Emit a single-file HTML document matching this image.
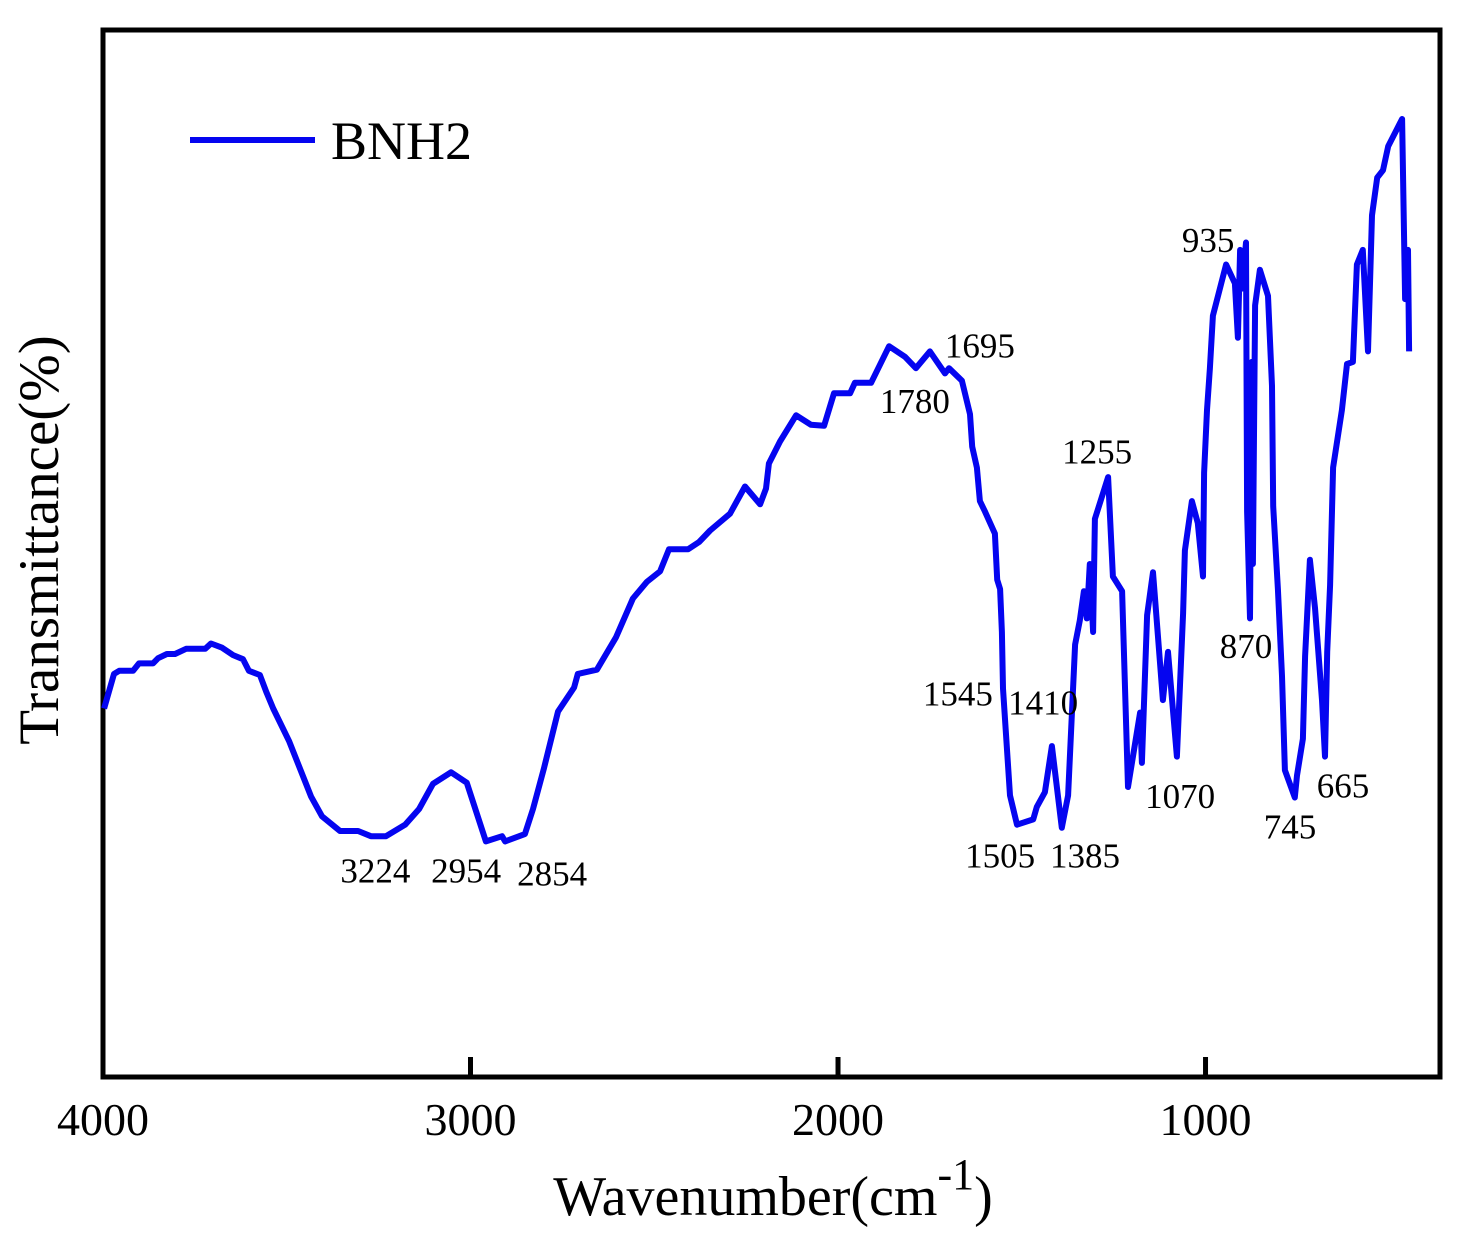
<!DOCTYPE html>
<html><head><meta charset="utf-8"><style>
html,body{margin:0;padding:0;background:#fff;}
svg{display:block;font-family:"Liberation Serif",serif;}
</style></head><body>
<svg id="chart" width="1463" height="1258" viewBox="0 0 1463 1258" xmlns="http://www.w3.org/2000/svg">
<rect x="103" y="30" width="1337" height="1047" fill="none" stroke="#000" stroke-width="5"/>
<g id="ticks"></g>
<path id="line" fill="none" stroke="#0505f0" stroke-width="6" stroke-linejoin="round"/>
<g id="annots" font-size="35"></g>
<text x="773" y="1215" font-size="56" text-anchor="middle">Wavenumber(cm<tspan dy="-26" font-size="44">-1</tspan><tspan dy="26">)</tspan></text>
<text transform="translate(58,540) rotate(-90)" font-size="57" text-anchor="middle">Transmittance(%)</text>
<g>
<line x1="190" y1="140" x2="315" y2="140" stroke="#0505f0" stroke-width="6"/>
<text x="331" y="159" font-size="54">BNH2</text>
</g>
</svg>
<script>
const wavenumbers=[3997,3970,3956,3918,3902,3864,3850,3826,3804,3774,3722,3706,3676,3646,3619,3603,3573,3556,3537,3494,3434,3404,3355,3306,3271,3230,3178,3140,3102,3053,3010,2958,2914,2906,2852,2830,2800,2762,2718,2708,2656,2604,2558,2520,2484,2460,2408,2378,2348,2294,2253,2212,2196,2188,2158,2114,2074,2038,2011,1967,1954,1910,1861,1818,1788,1750,1709,1698,1663,1641,1635,1622,1614,1600,1573,1567,1559,1554,1551,1532,1513,1469,1459,1437,1418,1391,1374,1355,1342,1331,1323,1315,1306,1301,1265,1252,1227,1211,1178,1173,1159,1143,1116,1102,1078,1061,1056,1037,1021,1007,1004,996,988,980,944,920,912,906,901,890,887,879,874,871,865,852,830,819,816,803,792,784,757,751,735,729,716,702,683,675,669,661,653,629,615,599,588,572,558,547,533,517,503,465,457,449,446];
const transmittance=[35.2,38.5,38.8,38.8,39.5,39.5,40.0,40.4,40.4,40.9,40.9,41.4,41.0,40.3,39.9,38.8,38.4,36.8,35.2,32.1,26.8,24.9,23.5,23.5,23.0,23.0,24.1,25.6,28.0,29.1,28.1,22.5,23.0,22.5,23.2,25.6,29.5,34.9,37.2,38.5,38.9,42.0,45.7,47.3,48.3,50.4,50.4,51.1,52.2,53.8,56.4,54.7,56.2,58.6,60.7,63.2,62.3,62.2,65.3,65.3,66.3,66.3,69.8,68.8,67.7,69.3,67.2,67.7,66.5,63.3,60.2,58.2,55.0,54.0,51.9,47.5,46.6,42.5,37.1,26.9,24.1,24.6,25.8,27.2,31.6,23.8,26.9,41.3,43.6,46.4,43.8,49.0,42.5,53.3,57.3,47.8,46.4,27.7,34.8,30.0,44.1,48.2,36.0,40.6,30.6,44.3,50.3,55.0,52.9,47.8,57.7,63.7,67.7,72.7,77.6,75.8,70.6,79.0,75.3,79.7,54.0,43.8,68.3,49.0,73.7,77.1,74.6,66.0,54.5,46.6,38.3,29.3,26.7,28.8,32.3,40.2,49.4,44.8,36.0,30.6,40.6,47.0,58.2,63.7,68.1,68.3,77.6,79.0,69.3,82.3,85.9,86.6,88.9,91.5,74.3,79.0,69.3];
const tickValues=[4000,3000,2000,1000];
const tickLabels=["4000","3000","2000","1000"];
const annotLabels=["3224","2954","2854","1780","1695","1545","1410","1505","1385","1255","1070","935","870","745","665"];
const annotW=[3259,3012,2778,1791,1614,1674,1442,1559,1328,1295,1069,993,890,770,626];
const annotT=[18.6,18.6,18.3,63.4,68.7,35.5,34.6,20.0,20.0,58.6,25.7,78.8,40.0,22.8,26.7];

const X0=103,X1=1440,Y0=1077,Y1=30,W0=4000,W1=362;
function xs(w){return X0+(W0-w)/(W0-W1)*(X1-X0);}
function ys(t){return Y0-(t/100)*(Y0-Y1);}
const NS="http://www.w3.org/2000/svg";
let d="";
for(let i=0;i<wavenumbers.length;i++){d+=(i?"L":"M")+xs(wavenumbers[i]).toFixed(1)+" "+ys(transmittance[i]).toFixed(1);}
document.getElementById('line').setAttribute('d',d);
const tg=document.getElementById('ticks');
tickValues.forEach((v,i)=>{
  const x=xs(v);
  const l=document.createElementNS(NS,'line');
  l.setAttribute('x1',x);l.setAttribute('x2',x);l.setAttribute('y1',Y0);l.setAttribute('y2',Y0-20);
  l.setAttribute('stroke','#000');l.setAttribute('stroke-width','5');
  
  
  tg.appendChild(l);
  const t=document.createElementNS(NS,'text');
  t.setAttribute('x',x);t.setAttribute('y',1135);t.setAttribute('font-size','46');t.setAttribute('text-anchor','middle');
  t.textContent=tickLabels[i];
  
  
  tg.appendChild(t);
});
const ag=document.getElementById('annots');
annotLabels.forEach((s,i)=>{
  const t=document.createElementNS(NS,'text');
  t.setAttribute('x',xs(annotW[i]));t.setAttribute('y',ys(annotT[i]));t.setAttribute('text-anchor','middle');
  t.textContent=s;
  
  
  ag.appendChild(t);
});
</script>
</body></html>
